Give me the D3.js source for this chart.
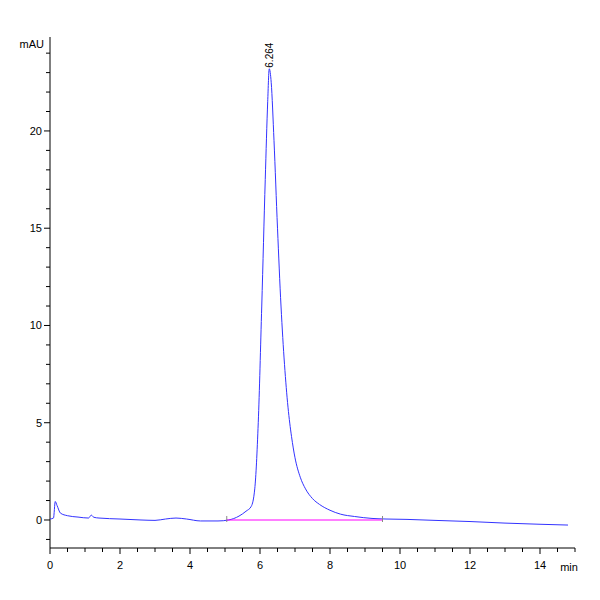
<!DOCTYPE html>
<html><head><meta charset="utf-8">
<script src="https://cdn.jsdelivr.net/npm/d3@7"></script>
<style>body{margin:0;background:#fff}</style>
</head><body><svg id="c" width="600" height="600"></svg>
<script>
// chromatogram trace (min, mAU)
var times = [0,0.1,0.15,0.2,0.3,0.5,0.8,1.1,1.18,1.25,1.4,2,2.6,3,3.3,3.6,3.9,4.3,4.8,5.1,5.4,5.6,5.75,5.85,5.95,6.05,6.15,6.22,6.264,6.32,6.4,6.5,6.6,6.7,6.8,6.9,7,7.15,7.3,7.5,7.7,8,8.3,8.7,9.2,9.6,10.2,11,12,13,14,14.8];
var mAU   = [0.05,0.1,0.95,0.75,0.35,0.22,0.15,0.1,0.25,0.14,0.1,0.05,0,-0.02,0.05,0.1,0.05,-0.05,-0.05,0,0.2,0.45,0.7,1.6,5,11,17.5,21.5,23.2,22.5,19.5,15,11,8,5.8,4.3,3.2,2.2,1.6,1.1,0.8,0.5,0.3,0.18,0.08,0.05,0.03,-0.02,-0.08,-0.16,-0.22,-0.26];
var baseT = [5.05,9.5], baseV = [0,0];
var peakT = 6.264, peakLabel = "6.264";

var svg = d3.select("#c");
var font = "Liberation Sans Narrow, Arial";
var x = d3.scaleLinear().domain([0,15]).range([50,575]);
var y = d3.scaleLinear().domain([-1.44,24.83]).range([548,37]);

svg.append("line").attr("x1",50).attr("x2",575).attr("y1",548).attr("y2",548).attr("stroke","#000");
svg.append("line").attr("x1",50).attr("x2",50).attr("y1",37).attr("y2",548).attr("stroke","#000");

var xt = d3.range(0,15.01,0.5);
svg.selectAll(".xt").data(xt).enter().append("line")
  .attr("x1",function(d){return x(d)}).attr("x2",function(d){return x(d)})
  .attr("y1",548).attr("y2",function(d){return d%2==0?554:552}).attr("stroke","#000");
svg.selectAll(".xl").data(d3.range(0,15,2)).enter().append("text")
  .attr("x",function(d){return x(d)}).attr("y",569).attr("text-anchor","middle")
  .attr("font-family",font).attr("font-size",11).text(function(d){return d});
svg.append("text").attr("x",569).attr("y",571).attr("text-anchor","middle")
  .attr("font-family",font).attr("font-size",11).text("min");

var yt = d3.range(-1,25,1);
svg.selectAll(".yt").data(yt).enter().append("line")
  .attr("x1",function(d){return d%5==0?44:46}).attr("x2",50)
  .attr("y1",function(d){return y(d)}).attr("y2",function(d){return y(d)}).attr("stroke","#000");
svg.selectAll(".yl").data(d3.range(0,25,5)).enter().append("text")
  .attr("x",42).attr("y",function(d){return y(d)+4}).attr("text-anchor","end")
  .attr("font-family",font).attr("font-size",11).text(function(d){return d});
svg.append("text").attr("x",44).attr("y",48).attr("text-anchor","end")
  .attr("font-family",font).attr("font-size",11).text("mAU");

svg.append("path").datum(d3.zip(times,mAU))
  .attr("d",d3.line().curve(d3.curveMonotoneX).x(function(d){return x(d[0])}).y(function(d){return y(d[1])}))
  .attr("stroke","#3333ff").attr("stroke-width",1).attr("fill","none");

svg.append("path").datum(d3.zip(baseT,baseV))
  .attr("d",d3.line().x(function(d){return x(d[0])}).y(function(d){return y(d[1])}))
  .attr("stroke","#ff00ff").attr("stroke-width",1.2).attr("fill","none");
svg.selectAll(".bm").data(baseT).enter().append("line")
  .attr("x1",function(d){return x(d)}).attr("x2",function(d){return x(d)})
  .attr("y1",y(0)-4).attr("y2",y(0)+2).attr("stroke","#888");

svg.append("text").attr("transform","translate("+(x(peakT)+4)+","+(y(23.2)-1)+") rotate(-90)")
  .attr("font-family","Liberation Sans, Arial").attr("font-size",10).text(peakLabel);
</script></body></html>
